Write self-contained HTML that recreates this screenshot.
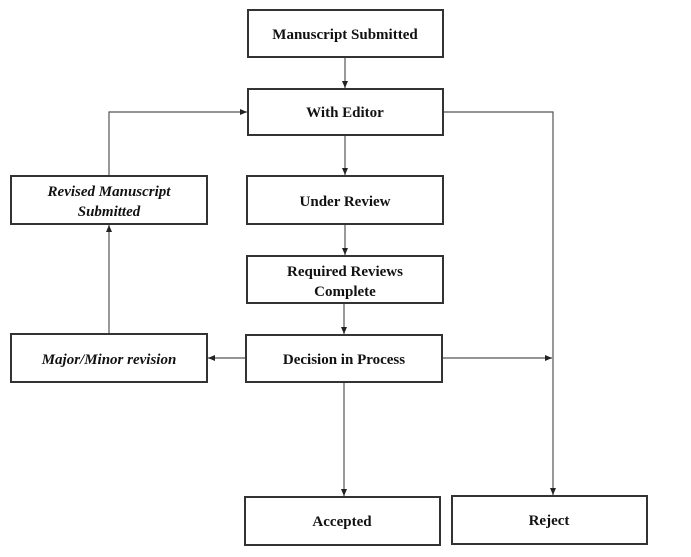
<!DOCTYPE html>
<html><head><style>
body{margin:0;width:691px;height:552px;background:#fff;overflow:hidden}
svg text{font-family:"Liberation Serif",serif;font-weight:bold;font-size:15px;fill:#111;text-anchor:middle}
</style></head><body>
<svg width="691" height="552" viewBox="0 0 691 552">
<defs><marker id="a" markerWidth="8" markerHeight="8" refX="7" refY="4" orient="auto" markerUnits="userSpaceOnUse"><path d="M0,1 L7,4 L0,7 z" fill="#222"/></marker></defs>
<g fill="none" stroke="#555" stroke-width="1.2">
<line x1="345" y1="57" x2="345" y2="88" marker-end="url(#a)"/>
<line x1="345" y1="135" x2="345" y2="175" marker-end="url(#a)"/>
<line x1="345" y1="224" x2="345" y2="255" marker-end="url(#a)"/>
<line x1="344" y1="303" x2="344" y2="334" marker-end="url(#a)"/>
<line x1="344" y1="382" x2="344" y2="496" marker-end="url(#a)"/>
<polyline points="443,112 553,112 553,495" marker-end="url(#a)"/>
<line x1="442" y1="358" x2="552" y2="358" marker-end="url(#a)"/>
<line x1="246" y1="358" x2="208" y2="358" marker-end="url(#a)"/>
<line x1="109" y1="334" x2="109" y2="225" marker-end="url(#a)"/>
<polyline points="109,176 109,112 247,112" marker-end="url(#a)"/>
</g>
<g fill="#fff" stroke="#333" stroke-width="2">
<rect x="248" y="10" width="195" height="47"/>
<rect x="248" y="89" width="195" height="46"/>
<rect x="247" y="176" width="196" height="48"/>
<rect x="247" y="256" width="196" height="47"/>
<rect x="246" y="335" width="196" height="47"/>
<rect x="11" y="334" width="196" height="48"/>
<rect x="11" y="176" width="196" height="48"/>
<rect x="245" y="497" width="195" height="48"/>
<rect x="452" y="496" width="195" height="48"/>
</g>
<text x="345" y="39">Manuscript Submitted</text>
<text x="345" y="117">With Editor</text>
<text x="345" y="206">Under Review</text>
<text x="345" y="276">Required Reviews</text>
<text x="345" y="296">Complete</text>
<text x="344" y="364">Decision in Process</text>
<text x="109" y="364" font-style="italic">Major/Minor revision</text>
<text x="109" y="196" font-style="italic">Revised Manuscript</text>
<text x="109" y="216" font-style="italic">Submitted</text>
<text x="342" y="526">Accepted</text>
<text x="549" y="525">Reject</text>
</svg>
</body></html>
